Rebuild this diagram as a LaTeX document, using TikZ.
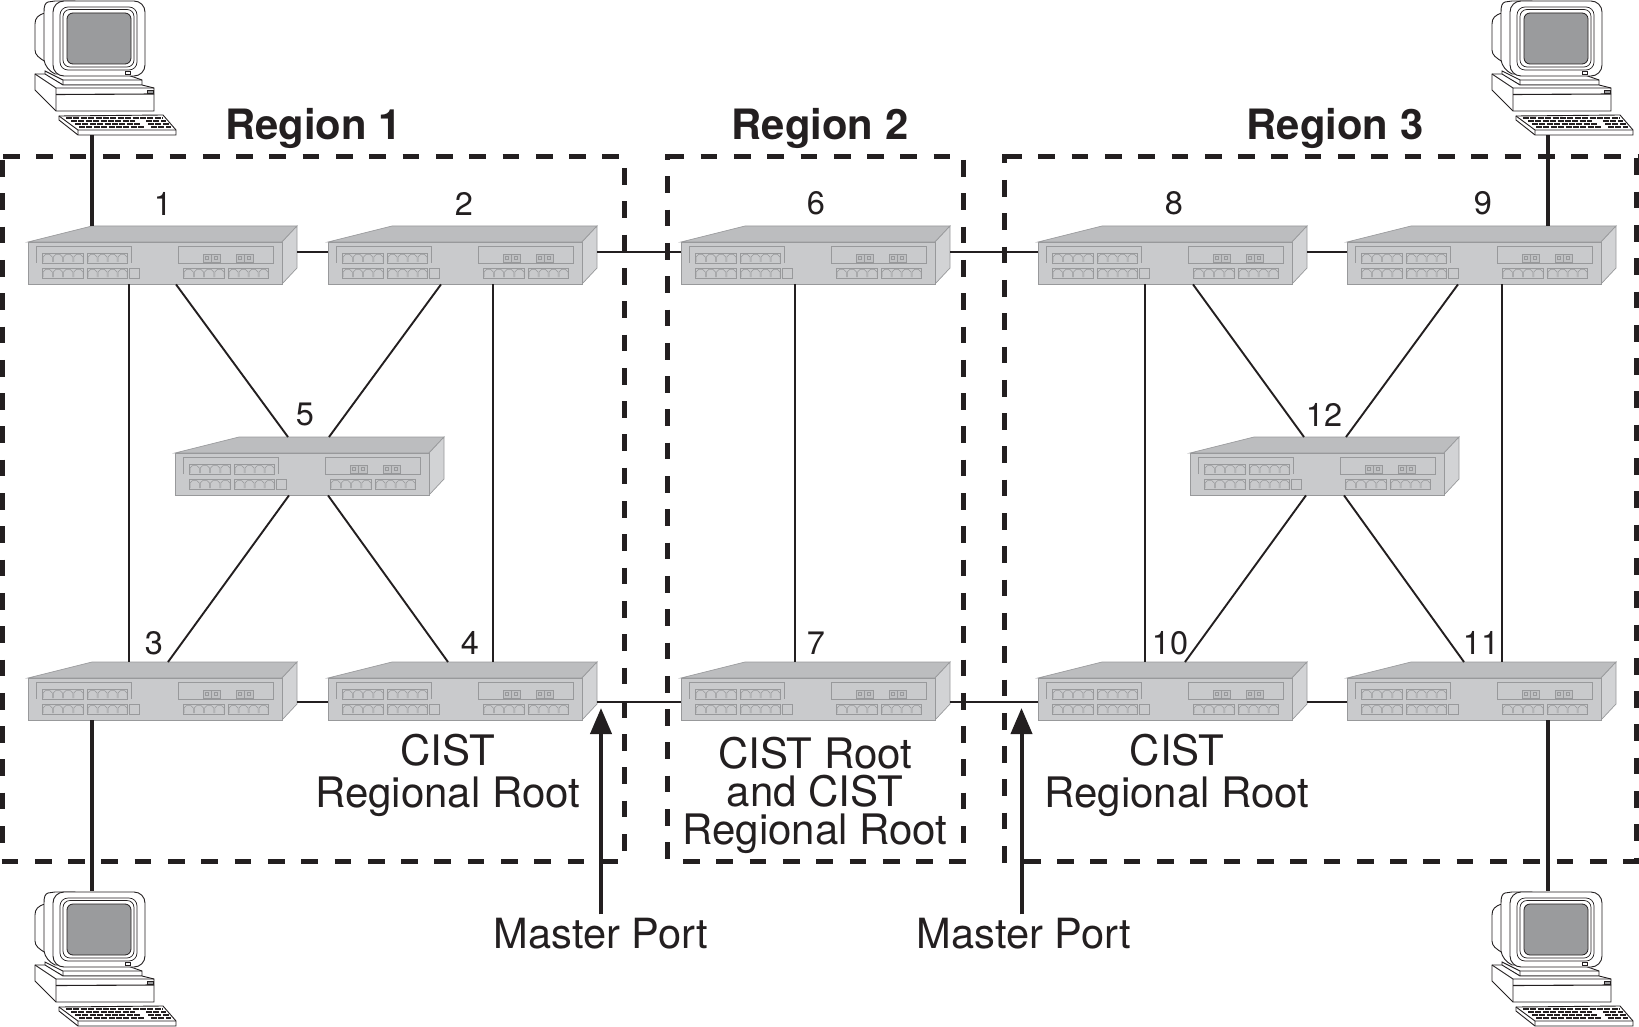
\documentclass[tikz,border=0pt]{standalone}
\usepackage{fontspec}
\setmainfont{TeX Gyre Heros}
\usetikzlibrary{arrows.meta, positioning, calc}

\definecolor{swfront}{HTML}{C9CACC}
\definecolor{swtop}{HTML}{BCBDBF}
\definecolor{swside}{HTML}{D2D3D5}
\definecolor{swedge}{HTML}{98999B}
\definecolor{pcscreen}{HTML}{9A9B9D}
\definecolor{inkblack}{HTML}{231F20}

\tikzset{
    swbox/.style={anchor=north west, minimum width=269pt, minimum height=58pt, inner sep=0pt},
    pcbox/.style={anchor=north west, minimum width=141pt, minimum height=135pt, inner sep=0pt},
    numlabel/.style={font=\fontsize{32.5}{34}\selectfont, text=inkblack},
    regionlabel/.style={font=\fontsize{41.8}{42}\selectfont\bfseries, text=inkblack},
    rootlabel/.style={font=\fontsize{42}{42}\selectfont, text=inkblack, align=center},
    rootlabeltight/.style={font=\fontsize{42}{38}\selectfont, text=inkblack, align=center},
    portlabel/.style={font=\fontsize{41.6}{42}\selectfont, text=inkblack},
    regionline/.style={inkblack, line width=5pt, dash pattern=on 16.7pt off 16.6pt},
    thinlink/.style={inkblack, line width=1.9pt},
    hostlink/.style={inkblack, line width=4.4pt},
    masterarrow/.style={inkblack, line width=4pt, -{Triangle[length=26pt,width=21pt]}},
    pics/swunit/.style={code={
        % body
        \draw[swedge, line width=0.7pt, fill=swtop] (0,16) -- (64,0) -- (269,0) -- (254,16) -- cycle;
        \draw[swedge, line width=0.7pt, fill=swside] (254,16) -- (269,0) -- (269,42) -- (254,58) -- cycle;
        \draw[swedge, line width=0.7pt, fill=swfront] (0,16) rectangle (254,58);
        % panels
        \draw[swedge, line width=0.7pt] (8,37) -- (8,20) -- (103,20) -- (103,37);
        \draw[swedge, line width=0.7pt] (150,37) rectangle (245,20);
        % ports
        \foreach \gx/\gy/\gw in {14/27/41,59/27/40,14/42/41,59/42/40,155/42/41,200/42/40}{
            \draw[swedge, line width=0.6pt] (\gx,\gy) rectangle ++(\gw,10);
            \foreach \k in {0,1,2,3}
                \draw[swedge, line width=0.5pt] (\gx+1+\k*\gw/4,\gy+9) -- ++(0,-5) -- ++(2.5,-2.5) -- ++(\gw/4-6,0) -- ++(2.5,2.5) -- ++(0,5);
        }
        \draw[swedge, line width=0.6pt] (101,42) rectangle (111,52);
        \foreach \gx in {175,208}{
            \draw[swedge, line width=0.6pt, fill=swtop!70!swfront] (\gx,28) rectangle ++(17,8);
            \draw[swedge, line width=0.6pt] (\gx+8.5,28) -- ++(0,8);
            \draw[swedge, line width=0.6pt] (\gx+2.5,30.5) rectangle ++(3,3);
            \draw[swedge, line width=0.6pt] (\gx+11,30.5) rectangle ++(3,3);
        }
    }},
    pics/pcunit/.style={code={
        % monitor
        \draw[inkblack, line width=0.9pt, fill=white] (10,13) .. controls (3,15) and (0,18) .. (0,24) -- (0,50) .. controls (0,55) and (4,58) .. (11,62) -- cycle;
        \draw[inkblack, line width=0.9pt, fill=white] (20,1) -- (13,2) .. controls (10,3) and (9,6) .. (9,12) -- (9,60) .. controls (10,66) and (14,71) .. (20,74) -- (40,74) -- (40,1) -- cycle;
        \draw[inkblack, line width=0.9pt, fill=white] (10,71) -- (28,80) -- (107,80) -- (107,85) -- (28,85) -- (10,75) -- cycle;
        \draw[inkblack, line width=0.9pt] (28,80) -- (28,85) (90,74) -- (107,80);
        \draw[inkblack, line width=0.9pt, fill=white, rounded corners=11pt] (18,1) rectangle (110,76);
        \draw[inkblack, line width=0.7pt, rounded corners=8pt] (25,7) rectangle (102,70);
        \draw[inkblack, line width=0.7pt, rounded corners=7pt] (28,9.5) rectangle (99,67);
        \draw[inkblack, line width=0.8pt, fill=pcscreen, rounded corners=6pt] (32,13) rectangle (96,64);
        \draw[inkblack, line width=0.6pt, fill=white] (90.5,71) rectangle (95.5,74);
        % base
        \draw[inkblack, line width=0.9pt, fill=white] (0,74) -- (10,74) -- (28,85) -- (107,85) -- (119,88) -- (119,111) -- (21,111) -- (0,90) -- cycle;
        \draw[inkblack, line width=0.9pt] (0,74) -- (21,88) -- (119,88) (21,88) -- (21,111);
        \draw[inkblack, line width=1.1pt] (21,94.5) -- (119,94);
        \draw[inkblack, line width=0.6pt, fill=pcscreen] (112,90) rectangle (118,93);
        % keyboard
        \draw[inkblack, line width=0.9pt, fill=white] (24,116) -- (128,115) -- (141,130) -- (141,135) -- (43,135) -- (24,120) -- cycle;
        \draw[inkblack, line width=0.9pt] (24,116) -- (43,130) -- (141,130) (43,130) -- (43,135);
        \foreach \ky/\kl/\kr in {118/31/128,121/36/100,124/40/105,127/44/110}
            \draw[inkblack, line width=1.1pt, dash pattern=on 6pt off 1.4pt] (\kl,\ky) -- (\kr,\ky);
        \foreach \ky/\kl/\kr in {121/111/131,124/113/134,127/116/136}
            \draw[inkblack, line width=1.1pt, dash pattern=on 6pt off 1.4pt] (\kl,\ky) -- (\kr,\ky);
    }}
}

\begin{document}
\begin{tikzpicture}[x=1pt,y=-1pt]
    \useasboundingbox (0,0) rectangle (1639,1027);

    % Switches
    \foreach \nm/\x/\y in {sw1/28/226, sw2/328/226, sw5/175/437, sw3/28/662, sw4/328/662,
                           sw6/681/226, sw7/681/662, sw8/1038/226, sw9/1347/226,
                           sw12/1190/437, sw10/1038/662, sw11/1347/662}{
        \node[swbox] (\nm) at (\x,\y) {};
        \pic at (\nm.north west) {swunit};
    }

    % Hosts
    \foreach \nm/\x/\y in {pc1/35/0, pc2/1492/0, pc3/35/891, pc4/1492/891}{
        \node[pcbox] (\nm) at (\x,\y) {};
        \pic at (\nm.north west) {pcunit};
    }

    % Regions
    \draw[regionline] (3,156.7) -- (620,156.7);
    \draw[regionline] (2.5,160) -- (2.5,845);
    \draw[regionline] (624.3,168) -- (624.3,851);
    \draw[regionline] (1.5,861) -- (619,861);
    \draw[regionline] (667.3,156.7) -- (951,156.7);
    \draw[regionline, dash phase=11pt] (667.3,154) -- (667.3,860);
    \draw[regionline] (963.3,160) -- (963.3,843);
    \draw[regionline] (683,861) -- (966,861);
    \draw[regionline] (1005,156.7) -- (1639,156.7);
    \draw[regionline, dash phase=7.3pt] (1004.3,154) -- (1004.3,863);
    \draw[regionline] (1636.7,158.3) -- (1636.7,861);
    \draw[regionline] (1023.8,861) -- (1639,861);

    % Host links
    \draw[hostlink] ([xshift=57pt]pc1.south west) -- ([xshift=64pt]sw1.north west);
    \draw[hostlink] ([xshift=56pt]pc2.south west) -- ([xshift=201pt]sw9.north west);
    \draw[hostlink] ([xshift=64pt]sw3.south west) -- ([xshift=57pt]pc3.north west);
    \draw[hostlink] ([xshift=201pt]sw11.south west) -- ([xshift=56pt]pc4.north west);

    % Horizontal links
    \foreach \a/\b in {sw1/sw2, sw2/sw6, sw6/sw8, sw8/sw9}
        \draw[thinlink] ([yshift=3pt]\a.east) -- ([yshift=3pt]\b.west);
    \foreach \a/\b in {sw3/sw4, sw4/sw7, sw7/sw10, sw10/sw11}
        \draw[thinlink] ([yshift=-11pt]\a.east) -- ([yshift=-11pt]\b.west);

    % Vertical links
    \foreach \a/\b/\dx in {sw1/sw3/101, sw2/sw4/165, sw6/sw7/114, sw8/sw10/107, sw9/sw11/155}
        \draw[thinlink] ([xshift=\dx pt]\a.south west) -- ([xshift=\dx pt]\b.north west);

    % Diagonal links
    \draw[thinlink] ([xshift=148pt]sw1.south west) -- ([xshift=113pt]sw5.north west);
    \draw[thinlink] ([xshift=113pt]sw2.south west) -- ([xshift=154pt]sw5.north west);
    \draw[thinlink] ([xshift=114pt]sw5.south west) -- ([xshift=140pt]sw3.north west);
    \draw[thinlink] ([xshift=153pt]sw5.south west) -- ([xshift=120pt]sw4.north west);
    \draw[thinlink] ([xshift=155pt]sw8.south west) -- ([xshift=114pt]sw12.north west);
    \draw[thinlink] ([xshift=111pt]sw9.south west) -- ([xshift=156pt]sw12.north west);
    \draw[thinlink] ([xshift=116pt]sw12.south west) -- ([xshift=147pt]sw10.north west);
    \draw[thinlink] ([xshift=154pt]sw12.south west) -- ([xshift=117pt]sw11.north west);

    % Switch numbers
    \foreach \nm/\x/\y/\t in {n1/163/203.5/1, n2/464/203.5/2, n6/816/203.5/6, n8/1174/203.5/8, n9/1483/203.5/9,
                              n5/305/414.5/5, n12/1324/414.5/12, n3/154/643/3, n4/470/643/4,
                              n7/816/643/7, n10/1170/643/10, n11/1481/643/11}
        \node[numlabel] (\nm) at (\x,\y) {\t};

    % Region names
    \node[regionlabel] (reg1) at (313.5,128) {Region 1};
    \node[regionlabel] (reg2) at (820,128) {Region 2};
    \node[regionlabel] (reg3) at (1335,128) {Region 3};

    % Root labels
    \node[rootlabel] (root1) at (447.5,775.5) {CIST\\Regional Root};
    \node[rootlabeltight] (root2) at (815,795) {CIST Root\\and CIST\\Regional Root};
    \node[rootlabel] (root3) at (1177,775.5) {CIST\\Regional Root};

    % Master ports
    \node[portlabel] (mp1) at (601,933.5) {Master Port};
    \node[portlabel] (mp2) at (1024,933.5) {Master Port};
    \coordinate (port1) at (601,708);
    \coordinate (port2) at (1021.5,708);
    \draw[masterarrow] (mp1.north -| port1) -- (port1);
    \draw[masterarrow] (mp2.north -| port2) -- (port2);
\end{tikzpicture}
\end{document}
